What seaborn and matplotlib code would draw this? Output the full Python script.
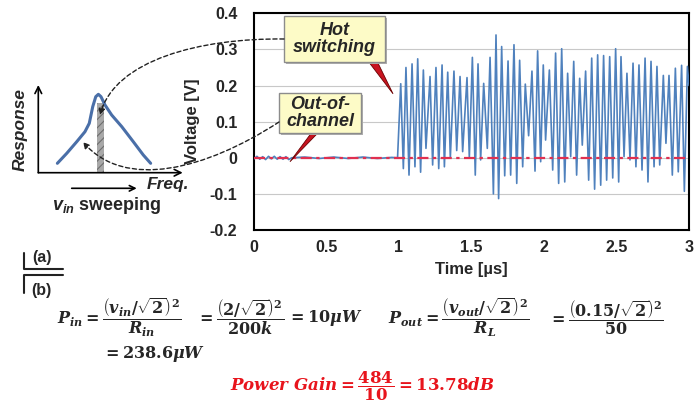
import numpy as np
import pandas as pd
import matplotlib
matplotlib.use('Agg')
from matplotlib import pyplot as plt
from matplotlib.patches import Rectangle, Polygon, FancyArrowPatch
from matplotlib.path import Path
from matplotlib.lines import Line2D
import matplotlib.transforms as mtransforms
import seaborn as sns

# output voltage before the switch turns on (time in us, volts)
pre_time = [0.00, 0.02, 0.04, 0.06, 0.08, 0.10, 0.12, 0.14, 0.16, 0.18, 0.20,
            0.22, 0.24, 0.26, 0.35, 0.45, 0.55, 0.65, 0.75, 0.85, 0.95, 0.988]
pre_volt = [-0.003, 0.004, -0.004, 0.003, -0.005, 0.004, -0.003, 0.004, -0.004,
            0.003, -0.004, 0.003, -0.005, 0.0, 0.002, -0.002, 0.002, -0.002,
            0.002, -0.002, 0.001, 0.0]

# peaks and troughs after hot switching
osc_time = [0.990,
            1.012, 1.030, 1.048, 1.069, 1.090, 1.110, 1.129, 1.149, 1.168, 1.186,
            1.214, 1.232, 1.255, 1.274, 1.297, 1.313, 1.336, 1.354, 1.379, 1.398,
            1.421, 1.439, 1.469, 1.485, 1.506, 1.526, 1.545, 1.563, 1.584, 1.609,
            1.628, 1.651, 1.669, 1.687, 1.708, 1.729, 1.752, 1.770, 1.793, 1.812,
            1.832, 1.853, 1.871, 1.894, 1.917, 1.938, 1.956, 1.977, 1.995,
            2.011, 2.037, 2.060, 2.080, 2.101, 2.122, 2.143, 2.163, 2.184, 2.205,
            2.225, 2.246, 2.264, 2.287, 2.308, 2.329, 2.349, 2.370, 2.391, 2.411,
            2.432, 2.453, 2.474, 2.494, 2.515, 2.531, 2.552, 2.572, 2.593, 2.614,
            2.634, 2.655, 2.676, 2.697, 2.717, 2.738, 2.759, 2.779, 2.798, 2.823,
            2.841, 2.862, 2.885, 2.906, 2.926, 2.949, 2.968, 2.989,
            3.000]
osc_volt = [0.0,
            0.205, -0.030, 0.250, -0.048, 0.260, -0.025, 0.274, -0.040, 0.243, 0.026,
            0.225, -0.020, 0.250, -0.030, 0.257, -0.025, 0.237, 0.000, 0.240, 0.020,
            0.225, 0.017, 0.222, 0.000, 0.278, -0.048, 0.260, -0.006, 0.206, 0.026,
            0.278, -0.100, 0.340, -0.113, 0.308, -0.050, 0.268, -0.048, 0.313, -0.071,
            0.270, -0.025, 0.204, 0.061, 0.240, -0.037, 0.296, -0.011, 0.257,
            0.049, 0.243, -0.034, 0.290, -0.071, 0.302, -0.067, 0.234, 0.003, 0.267,
            -0.048, 0.220, 0.035, 0.240, -0.062, 0.276, -0.087, 0.285, -0.076, 0.283,
            -0.062, 0.280, -0.056, 0.302, -0.067, 0.280, 0.003, 0.234, -0.006, 0.262,
            -0.025, 0.257, -0.034, 0.276, -0.067, 0.267, -0.025, 0.253, -0.020, 0.228,
            0.040, 0.228, -0.048, 0.248, -0.039, 0.256, -0.093, 0.253,
            0.200]

# sketch of the resonator response (arbitrary units)
inset_freq = [0.132, 0.197, 0.266, 0.323, 0.353, 0.377, 0.398, 0.416, 0.434,
              0.462, 0.508, 0.578, 0.658, 0.727, 0.778]
inset_resp = [0.107, 0.221, 0.353, 0.467, 0.563, 0.753, 0.867, 0.894, 0.867,
              0.772, 0.658, 0.525, 0.353, 0.202, 0.107]
band_freq = [0.404, 0.455]
band_top = [0.79, 0.79]

x_ticks = [0, 0.5, 1, 1.5, 2, 2.5, 3]
x_labels = ['0', '0.5', '1', '1.5', '2', '2.5', '3']
y_ticks = [-0.2, -0.1, 0, 0.1, 0.2, 0.3, 0.4]
y_labels = ['-0.2', '-0.1', '0', '0.1', '0.2', '0.3', '0.4']

W, H = 698, 412


def fx(x):
    return x / W


def fy(y):
    return 1 - y / H


def fp(x, y):
    return (x / W, 1 - y / H)


sns.set_theme(style='white')
plt.rcParams['font.family'] = ['Liberation Sans', 'DejaVu Sans']
plt.rcParams['mathtext.fontset'] = 'custom'
plt.rcParams['mathtext.rm'] = 'DejaVu Serif:bold'
plt.rcParams['mathtext.it'] = 'DejaVu Serif:italic:bold'
plt.rcParams['mathtext.bf'] = 'DejaVu Serif:bold'
plt.rcParams['mathtext.sf'] = 'Liberation Sans:italic:bold'
plt.rcParams['hatch.linewidth'] = 0.8

fig = plt.figure(figsize=(6.98, 4.12), dpi=100)
ax = fig.add_axes([fx(254), fy(230), (689 - 254) / W, (230 - 13.3) / H])

sig = pd.DataFrame({'time': pre_time + osc_time, 'volt': pre_volt + osc_volt})
base = pd.DataFrame({'time': [0, 3], 'volt': [0, 0]})
sns.lineplot(data=sig, x='time', y='volt', ax=ax, color='#4f81bd', lw=1.2,
             estimator=None, sort=False, zorder=3)
sns.lineplot(data=base, x='time', y='volt', ax=ax, color='#e03050', lw=1.6,
             linestyle=(0, (5, 2, 1.5, 2)), zorder=3.5)

ax.set_xlim(0, 3)
ax.set_ylim(-0.2, 0.4)
ax.set_xticks(x_ticks)
ax.set_xticklabels(x_labels)
ax.set_yticks(y_ticks)
ax.set_yticklabels(y_labels)
ax.yaxis.grid(True, color='#c8c8c8', lw=0.8)
ax.xaxis.grid(False)
ax.set_axisbelow(True)
for s in ax.spines.values():
    s.set_color('black')
    s.set_linewidth(1.5)
ax.tick_params(axis='both', length=0, labelsize=11.5)
ax.tick_params(axis='y', pad=12)
ax.tick_params(axis='x', pad=7)
for lab in ax.get_xticklabels() + ax.get_yticklabels():
    lab.set_fontweight('bold')
ax.set_xlabel('Time [µs]', fontsize=12, fontweight='bold', labelpad=5)
ax.set_ylabel('Voltage [V]', fontsize=12, fontweight='bold', labelpad=7)

# callout boxes with red pointers
shadow_tr = mtransforms.offset_copy(ax.transData, fig=fig, x=2, y=-2, units='dots')


def callout(t0, t1, v0, v1, text, wedge):
    ax.add_patch(Polygon(wedge, closed=True, facecolor='#c81420',
                         edgecolor='#6a0000', lw=0.6, zorder=4))
    ax.add_patch(Rectangle((t0, v0), t1 - t0, v1 - v0, transform=shadow_tr,
                           facecolor='#b0b0b0', edgecolor='none', zorder=4.5))
    ax.add_patch(Rectangle((t0, v0), t1 - t0, v1 - v0, facecolor='#fdfbc7',
                           edgecolor='#8c8c8c', lw=1.0, zorder=5))
    ax.text((t0 + t1) / 2, (v0 + v1) / 2, text, ha='center', va='center',
            fontsize=13, style='italic', fontweight='bold', linespacing=1.0,
            zorder=6)


callout(0.209, 0.903, 0.265, 0.393, 'Hot\nswitching',
        [(0.786, 0.268), (0.848, 0.268), (0.959, 0.177)])
callout(0.174, 0.738, 0.068, 0.180, 'Out-of-\nchannel',
        [(0.398, 0.070), (0.444, 0.070), (0.248, -0.011)])

# inset: resonance sketch
ax_in = fig.add_axes([fx(38.3), fy(172.7), (182.7 - 38.3) / W, (172.7 - 85) / H])
ax_in.set_xlim(0, 1)
ax_in.set_ylim(0, 1)
ax_in.axis('off')
ax_in.fill_between(band_freq, 0, band_top, facecolor='#a8a8a8',
                   edgecolor='#6e6e6e', hatch='////', lw=0, zorder=1)
sns.lineplot(x=inset_freq, y=inset_resp, ax=ax_in, color='#4a6fa8', lw=2.2,
             sort=False, estimator=None, zorder=2)
for end in [(0, 1), (1, 0)]:
    ax_in.annotate('', xy=end, xytext=(0, 0), xycoords='axes fraction',
                   arrowprops=dict(arrowstyle='->', color='black', lw=1.2,
                                   shrinkA=0, shrinkB=0))

fig.text(*fp(20, 130), 'Response', rotation=90, ha='center', va='center',
         fontsize=12.5, style='italic', fontweight='bold')
fig.text(*fp(168, 185), 'Freq.', ha='center', va='center',
         fontsize=12.5, style='italic', fontweight='bold')
fig.text(*fp(106.7, 206), r'$\mathsf{v_{in}}$ sweeping', ha='center',
         va='center', fontsize=13, fontweight='bold')
fig.add_artist(FancyArrowPatch(fp(71.7, 188.3), fp(136.7, 188.3),
                               transform=fig.transFigure, arrowstyle='->',
                               mutation_scale=10, lw=1.2, color='black',
                               shrinkA=0, shrinkB=0))

# dashed connectors from callouts to the sketch
codes = [Path.MOVETO, Path.CURVE4, Path.CURVE4, Path.CURVE4]
hot_path = Path([fp(284, 39), fp(200, 38), fp(115, 60), fp(100, 115)], codes)
out_path = Path([fp(279, 122), fp(205, 170), fp(125, 190), fp(83, 142)], codes)
for p in (hot_path, out_path):
    fig.add_artist(FancyArrowPatch(path=p, transform=fig.transFigure,
                                   arrowstyle='-|>', mutation_scale=9, lw=1.0,
                                   linestyle=(0, (3, 2)), color='#222222'))

# (a) / (b) separator
fig.add_artist(Line2D([fx(24), fx(24), fx(63.3)], [fy(252.7), fy(269.3), fy(269.3)],
                      color='#222222', lw=1.5))
fig.add_artist(Line2D([fx(24), fx(24), fx(63.3)], [fy(292.7), fy(275.3), fy(275.3)],
                      color='#222222', lw=1.5))
fig.text(*fp(41.7, 257.7), '(a)', ha='center', va='center', fontsize=11.5,
         fontweight='bold')
fig.text(*fp(41.7, 291), '(b)', ha='center', va='center', fontsize=11.5,
         fontweight='bold')

# power calculation
eq_size = 11.5
row = 317.5
fig.text(*fp(56.7, row), r'$P_{in}=\dfrac{\left(v_{in}/\sqrt{2}\right)^2}{R_{in}}$',
         ha='left', va='center', fontsize=eq_size)
fig.text(*fp(196, row), r'$=\dfrac{\left(2/\sqrt{2}\right)^2}{200k}$',
         ha='left', va='center', fontsize=eq_size)
fig.text(*fp(287, row), r'$=10\mu W$', ha='left', va='center', fontsize=eq_size)
fig.text(*fp(388, row), r'$P_{out}=\dfrac{\left(v_{out}/\sqrt{2}\right)^2}{R_L}$',
         ha='left', va='center', fontsize=eq_size)
fig.text(*fp(548, row), r'$=\dfrac{\left(0.15/\sqrt{2}\right)^2}{50}$',
         ha='left', va='center', fontsize=eq_size)
fig.text(*fp(102, 353.7), r'$=238.6\mu W$', ha='left', va='center',
         fontsize=eq_size)
fig.text(*fp(230, 386), r'$Power\ Gain=\dfrac{484}{10}=13.78dB$', ha='left',
         va='center', fontsize=eq_size + 0.5, color='#e8141c')

fig.savefig('out.png', dpi=100)
